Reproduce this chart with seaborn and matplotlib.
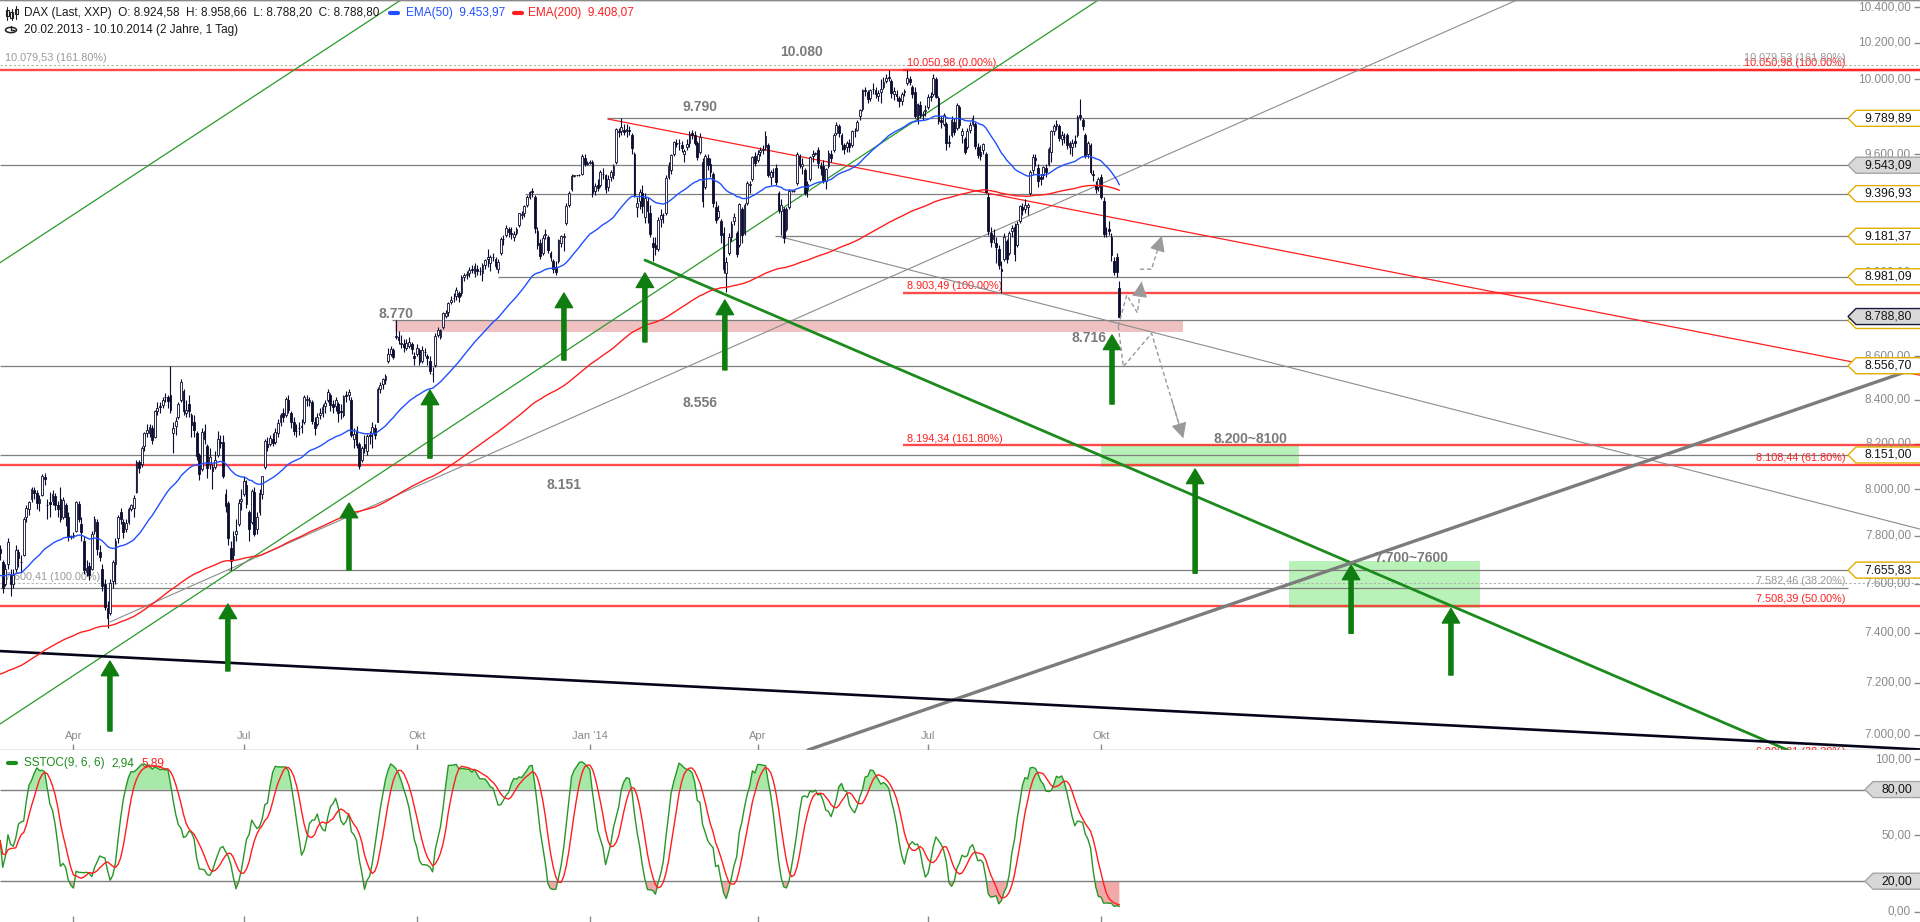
import numpy as np
import pandas as pd
import matplotlib
matplotlib.use("Agg")
import matplotlib.pyplot as plt
import seaborn as sns
from matplotlib.patches import Polygon, Circle, Rectangle
from matplotlib.lines import Line2D
from matplotlib.ticker import FixedLocator, NullLocator, NullFormatter
from matplotlib.transforms import blended_transform_factory

# ---------------- DAX (Last, XXP) daily quotes 20.02.2013 - 10.10.2014 ----------------
opens = [
    7745, 7690, 7600, 7680, 7640, 7600, 7660,
    7730, 7690, 7720, 7880, 7915, 7960, 7995, 7985, 7940, 7975, 8055, 7930, 7945, 7950, 7970, 7930, 7960, 7880, 7930, 7880, 7795,
    7800, 7820, 7935, 7850, 7780, 7650, 7675, 7660, 7820, 7860, 7730, 7660, 7600, 7500, 7480, 7610, 7680, 7790, 7900, 7860, 7830, 7860,
    7914, 7920, 7990, 8120, 8110, 8190, 8250, 8250, 8270, 8230, 8350, 8370, 8375, 8410, 8410, 8420, 8250, 8280, 8320, 8400, 8440, 8340, 8380,
    8330, 8300, 8250, 8150, 8090, 8260, 8190, 8110, 8100, 8100, 8150, 8210, 8210, 7980, 7940, 7750, 7720, 7810, 7850, 7950,
    7980, 8020, 7900, 7860, 7990, 7830, 7900, 7980, 8100, 8200, 8200, 8220, 8210, 8250, 8300, 8340, 8330, 8400, 8340, 8300, 8260, 8270, 8280,
    8300, 8400, 8390, 8390, 8300, 8290, 8330, 8340, 8370, 8400, 8420, 8380, 8370, 8380, 8350, 8330, 8420, 8420, 8400, 8220, 8260, 8200,
    8130, 8200, 8170, 8240, 8250, 8270, 8300, 8450, 8470, 8490, 8580, 8610, 8630, 8690, 8690, 8660, 8660, 8640, 8650, 8660, 8600,
    8610, 8630, 8580, 8620, 8600, 8580, 8520, 8560, 8700, 8690, 8740, 8790, 8810, 8860, 8880, 8890, 8900, 8900, 8980, 8990, 9000, 9020, 9000,
    9020, 9010, 9000, 9040, 9070, 9050, 9080, 9070, 9020, 9100, 9170, 9190, 9220, 9200, 9180, 9200, 9240, 9290, 9300, 9340, 9380,
    9410, 9380, 9210, 9150, 9100, 9190, 9180, 9100, 9060, 9030, 9060, 9150, 9180, 9250, 9340, 9420, 9489, 9490, 9492, 9500, 9580, 9552,
    9555, 9560, 9410, 9440, 9440, 9500, 9490, 9430, 9480, 9490, 9560, 9720, 9720, 9730, 9720, 9730, 9700, 9600, 9330, 9360, 9400, 9280, 9360,
    9300, 9150, 9140, 9120, 9270, 9290, 9300, 9480, 9520, 9600, 9660, 9660, 9650, 9600, 9640, 9660, 9710, 9700, 9660, 9610,
    9560, 9430, 9580, 9550, 9500, 9330, 9280, 9260, 9200, 9000, 9100, 9180, 9260, 9200, 9140, 9320, 9200, 9350, 9440, 9470, 9590,
    9570, 9610, 9620, 9640, 9650, 9480, 9510, 9530, 9400, 9310, 9320, 9220, 9330, 9409, 9410, 9450, 9590, 9540, 9520, 9420, 9470, 9590,
    9603, 9620, 9540, 9540, 9460, 9540, 9600, 9620, 9710, 9750, 9700, 9650, 9640, 9660, 9650, 9720, 9730, 9800, 9840, 9940, 9930, 9900,
    9950, 9940, 9910, 9930, 9960, 9990, 10010, 9990, 9920, 9920, 9900, 9880, 9930, 9980, 10000, 9960, 9930, 9780, 9860, 9810, 9830,
    9850, 9910, 9920, 10000, 9900, 9780, 9760, 9760, 9660, 9700, 9770, 9740, 9850, 9700, 9680, 9640, 9730, 9760, 9760, 9640, 9610, 9620, 9600,
    9380, 9200, 9170, 9150, 9120, 9020, 9070, 9160, 9100, 9210, 9230, 9140, 9260, 9330, 9320, 9330, 9400, 9520, 9580, 9530, 9480,
    9490, 9530, 9550, 9610, 9720, 9750, 9750, 9680, 9690, 9700, 9640, 9640, 9670, 9700, 9810, 9780, 9700, 9600, 9650, 9500, 9440, 9430,
    9480, 9360, 9200, 9220, 9180, 9060, 9080, 8924.58,
]
highs = [
    7760, 7700, 7680, 7790, 7660, 7660, 7760,
    7745, 7720, 7880, 7930, 7950, 8010, 8010, 7995, 7975, 8065, 8070, 7960, 7990, 7995, 7985, 7950, 8010, 7965, 7940, 7900, 7805,
    7815, 7950, 7950, 7880, 7800, 7700, 7690, 7820, 7885, 7870, 7760, 7680, 7620, 7530, 7620, 7700, 7790, 7890, 7920, 7870, 7870, 7925,
    7935, 7975, 8130, 8130, 8190, 8255, 8290, 8290, 8285, 8355, 8390, 8390, 8410, 8430, 8420, 8557, 8300, 8320, 8390, 8495, 8450, 8400, 8420,
    8340, 8330, 8260, 8160, 8270, 8290, 8200, 8180, 8110, 8170, 8260, 8240, 8240, 8000, 7950, 7780, 7820, 7870, 7960, 8000,
    8060, 8040, 7910, 8000, 8010, 7900, 8000, 8060, 8220, 8230, 8240, 8250, 8270, 8310, 8340, 8360, 8410, 8420, 8350, 8320, 8290, 8300, 8310,
    8420, 8420, 8410, 8400, 8320, 8340, 8360, 8380, 8400, 8450, 8430, 8400, 8410, 8390, 8380, 8420, 8440, 8450, 8410, 8270, 8280, 8210,
    8190, 8240, 8245, 8260, 8300, 8290, 8460, 8480, 8500, 8520, 8640, 8650, 8640, 8770, 8720, 8700, 8680, 8680, 8690, 8670, 8620,
    8660, 8640, 8650, 8640, 8610, 8600, 8550, 8710, 8740, 8730, 8810, 8820, 8860, 8890, 8900, 8930, 8910, 8990, 9000, 9010, 9030, 9040, 9050,
    9040, 9030, 9050, 9070, 9120, 9090, 9100, 9080, 9070, 9180, 9190, 9240, 9230, 9230, 9210, 9230, 9300, 9310, 9340, 9390, 9410,
    9424, 9390, 9230, 9170, 9190, 9220, 9190, 9110, 9070, 9060, 9170, 9190, 9200, 9350, 9410, 9500, 9495, 9495, 9500, 9600, 9600, 9565,
    9570, 9570, 9450, 9470, 9520, 9530, 9500, 9490, 9520, 9550, 9740, 9740, 9794, 9760, 9760, 9750, 9710, 9610, 9380, 9420, 9440, 9400, 9380,
    9340, 9180, 9180, 9280, 9320, 9300, 9490, 9560, 9600, 9670, 9680, 9680, 9670, 9630, 9680, 9720, 9730, 9720, 9670, 9710,
    9580, 9600, 9600, 9580, 9510, 9360, 9340, 9270, 9230, 9080, 9200, 9260, 9300, 9210, 9350, 9330, 9350, 9460, 9460, 9590, 9610,
    9620, 9640, 9650, 9720, 9660, 9520, 9530, 9550, 9410, 9370, 9330, 9330, 9420, 9415, 9418, 9610, 9600, 9580, 9530, 9460, 9590, 9620,
    9612, 9640, 9560, 9570, 9530, 9620, 9620, 9710, 9770, 9760, 9710, 9660, 9670, 9680, 9730, 9740, 9780, 9840, 9950, 9960, 9940, 9950,
    9980, 9960, 9940, 10000, 10010, 10030, 10050, 10000, 9960, 9940, 9910, 9930, 9950, 10051, 10020, 9970, 9960, 9870, 9880, 9830, 9860,
    9920, 9930, 10030, 10010, 9910, 9800, 9820, 9770, 9700, 9800, 9790, 9870, 9860, 9740, 9690, 9740, 9770, 9810, 9770, 9660, 9650, 9660, 9610,
    9400, 9230, 9220, 9180, 9140, 9060, 9200, 9170, 9210, 9240, 9250, 9260, 9340, 9350, 9370, 9350, 9520, 9600, 9600, 9550, 9500,
    9540, 9550, 9640, 9730, 9760, 9780, 9760, 9720, 9710, 9710, 9670, 9680, 9700, 9810, 9891, 9790, 9710, 9670, 9660, 9520, 9460, 9480,
    9500, 9380, 9230, 9260, 9200, 9080, 9100, 8958.66,
]
lows = [
    7700, 7560, 7590, 7660, 7550, 7580, 7650,
    7670, 7650, 7715, 7860, 7890, 7945, 7960, 7915, 7905, 7970, 8020, 7870, 7880, 7930, 7910, 7880, 7860, 7870, 7840, 7780, 7785,
    7790, 7815, 7860, 7780, 7640, 7630, 7615, 7655, 7810, 7720, 7695, 7570, 7490, 7420, 7470, 7580, 7600, 7770, 7850, 7790, 7815, 7850,
    7905, 7880, 7985, 8070, 8100, 8170, 8230, 8230, 8200, 8225, 8330, 8340, 8360, 8390, 8360, 8340, 8160, 8240, 8310, 8390, 8330, 8320, 8320,
    8230, 8230, 8130, 8040, 8080, 8200, 8050, 8090, 8000, 8090, 8140, 8180, 8050, 7900, 7760, 7656, 7700, 7780, 7840, 7910,
    7970, 7920, 7780, 7850, 7800, 7810, 7890, 7960, 8090, 8170, 8190, 8190, 8200, 8230, 8280, 8300, 8320, 8340, 8270, 8240, 8230, 8240, 8250,
    8290, 8370, 8370, 8290, 8240, 8280, 8310, 8320, 8340, 8390, 8350, 8340, 8350, 8300, 8310, 8320, 8390, 8400, 8230, 8180, 8180, 8090,
    8120, 8160, 8150, 8200, 8180, 8220, 8300, 8430, 8450, 8470, 8570, 8600, 8590, 8680, 8660, 8640, 8620, 8630, 8640, 8610, 8560,
    8600, 8560, 8570, 8600, 8560, 8520, 8480, 8550, 8690, 8680, 8730, 8780, 8790, 8850, 8860, 8870, 8860, 8890, 8960, 8970, 8980, 9000, 8980,
    8990, 8990, 8960, 9020, 9030, 9010, 9060, 9020, 9000, 9090, 9140, 9180, 9180, 9170, 9160, 9190, 9230, 9270, 9280, 9330, 9370,
    9380, 9200, 9120, 9070, 9090, 9170, 9100, 9060, 9000, 8990, 9050, 9130, 9110, 9240, 9330, 9410, 9482, 9485, 9488, 9495, 9540, 9545,
    9550, 9380, 9390, 9410, 9430, 9470, 9400, 9410, 9460, 9470, 9550, 9690, 9700, 9700, 9690, 9700, 9600, 9380, 9280, 9320, 9300, 9250, 9250,
    9180, 9060, 9090, 9110, 9230, 9250, 9290, 9470, 9500, 9590, 9640, 9620, 9610, 9560, 9620, 9640, 9680, 9650, 9570, 9600,
    9330, 9420, 9520, 9480, 9330, 9250, 9270, 9150, 9000, 8907, 9090, 9160, 9240, 9080, 9130, 9150, 9190, 9340, 9400, 9460, 9540,
    9560, 9590, 9600, 9620, 9480, 9440, 9480, 9440, 9300, 9190, 9150, 9210, 9320, 9405, 9405, 9440, 9530, 9500, 9390, 9380, 9460, 9560,
    9598, 9530, 9490, 9450, 9420, 9530, 9560, 9610, 9700, 9690, 9620, 9600, 9610, 9610, 9640, 9690, 9720, 9780, 9830, 9910, 9870, 9880,
    9920, 9900, 9880, 9870, 9950, 9980, 9990, 9900, 9890, 9880, 9850, 9860, 9910, 9970, 9970, 9900, 9790, 9760, 9790, 9780, 9800,
    9840, 9880, 9910, 9900, 9760, 9740, 9750, 9620, 9640, 9690, 9700, 9730, 9740, 9660, 9600, 9630, 9710, 9750, 9630, 9580, 9570, 9600, 9400,
    9190, 9130, 9150, 9050, 9020, 8903.49, 9060, 9050, 9090, 9180, 9060, 9130, 9250, 9290, 9300, 9290, 9390, 9500, 9540, 9430, 9440,
    9470, 9480, 9540, 9560, 9700, 9730, 9670, 9650, 9660, 9630, 9600, 9590, 9640, 9690, 9780, 9730, 9580, 9580, 9500, 9460, 9400, 9410,
    9370, 9180, 9180, 9190, 9060, 8990, 8980, 8788.20,
]
closes = [
    7728, 7583, 7661, 7774, 7597, 7636, 7741,
    7708, 7691, 7870, 7919, 7945, 8003, 7983, 7939, 7960, 8059, 8043, 7931, 7935, 7980, 7932, 7913, 7870, 7955, 7879, 7795, 7800,
    7805, 7943, 7874, 7818, 7658, 7663, 7637, 7810, 7871, 7744, 7712, 7588, 7503, 7459, 7601, 7690, 7777, 7882, 7870, 7815, 7855, 7914,
    7930, 7961, 8122, 8094, 8181, 8249, 8262, 8278, 8217, 8348, 8364, 8365, 8399, 8414, 8396, 8352, 8271, 8305, 8382, 8480, 8350, 8351, 8348,
    8286, 8262, 8147, 8066, 8255, 8221, 8093, 8143, 8079, 8127, 8222, 8205, 8059, 7928, 7789, 7692, 7800, 7821, 7940, 7959,
    8037, 7936, 7829, 7994, 7807, 7881, 7986, 8058, 8212, 8187, 8226, 8205, 8254, 8294, 8331, 8321, 8402, 8355, 8298, 8257, 8258, 8271, 8276,
    8410, 8403, 8398, 8305, 8273, 8321, 8338, 8368, 8387, 8435, 8376, 8366, 8398, 8341, 8343, 8416, 8416, 8436, 8241, 8244, 8195, 8103,
    8180, 8181, 8235, 8234, 8275, 8240, 8447, 8469, 8495, 8509, 8613, 8636, 8596, 8694, 8676, 8665, 8642, 8665, 8666, 8636, 8594,
    8638, 8573, 8630, 8622, 8591, 8534, 8516, 8698, 8725, 8724, 8805, 8805, 8852, 8870, 8879, 8919, 8882, 8981, 8990, 8996, 9015, 9014, 9034,
    9008, 9010, 9040, 9062, 9078, 9079, 9076, 9034, 9055, 9168, 9168, 9225, 9202, 9193, 9193, 9219, 9299, 9291, 9336, 9378, 9405,
    9405, 9225, 9140, 9084, 9172, 9191, 9114, 9077, 9017, 9006, 9163, 9182, 9181, 9336, 9400, 9489, 9490, 9492, 9495, 9589, 9552, 9555,
    9560, 9400, 9435, 9428, 9506, 9497, 9421, 9473, 9510, 9540, 9734, 9717, 9742, 9716, 9731, 9720, 9631, 9392, 9349, 9406, 9336, 9374, 9306,
    9193, 9128, 9116, 9265, 9290, 9286, 9478, 9540, 9597, 9662, 9656, 9660, 9631, 9617, 9656, 9708, 9699, 9661, 9588, 9692,
    9359, 9589, 9542, 9507, 9350, 9265, 9308, 9189, 9017, 9056, 9180, 9242, 9277, 9093, 9342, 9188, 9338, 9451, 9448, 9587, 9556,
    9604, 9623, 9629, 9695, 9490, 9507, 9506, 9454, 9315, 9339, 9173, 9317, 9409, 9410, 9412, 9600, 9545, 9548, 9401, 9446, 9584, 9603,
    9605, 9556, 9529, 9467, 9521, 9608, 9581, 9703, 9754, 9710, 9656, 9630, 9659, 9639, 9722, 9720, 9768, 9832, 9940, 9939, 9892, 9943,
    9950, 9920, 9926, 9947, 9987, 10009, 10008, 9925, 9939, 9912, 9883, 9920, 9937, 10005, 9987, 9920, 9804, 9867, 9805, 9815, 9833,
    9902, 9902, 10009, 9906, 9773, 9772, 9808, 9659, 9666, 9783, 9719, 9859, 9753, 9720, 9612, 9720, 9753, 9794, 9644, 9598, 9593, 9653, 9407,
    9210, 9154, 9189, 9130, 9039, 9010, 9180, 9070, 9198, 9225, 9092, 9245, 9334, 9315, 9339, 9339, 9510, 9588, 9570, 9462, 9470,
    9532, 9507, 9626, 9724, 9747, 9758, 9686, 9700, 9691, 9651, 9659, 9661, 9661, 9799, 9799, 9749, 9595, 9661, 9510, 9490, 9422, 9474,
    9382, 9195, 9197, 9209, 9086, 9005, 9005, 8788.80,
]
assert len(opens) == len(highs) == len(lows) == len(closes)

# EMA levels carried in from before the window, values in the legend
ema50_start, ema200_start = 7630, 7230
ema_legend = [9453.97, 9408.07]
stoch_legend = [2.94, 5.89]
quote_header = [8924.58, 8958.66, 8788.20, 8788.80]

# horizontal support/resistance lines: level, first bar
gray_levels = [9789.89, 9543.09, 9396.93, 9181.37, 8981.09, 8770.00, 8556.70, 8151.00, 7655.83, 7582.46]
gray_starts = [231.4, 0, 200.3, 295.6, 190.0, 149.5, 0, 0, 87.0, 0]
tag_levels_orange = [9789.89, 9396.93, 9181.37, 8981.09, 8556.70, 8151.00, 7655.83]
tag_level_hidden = 8770.00
tag_levels_gray = [9543.09]
last_price = 8788.80

# Fibonacci levels
fib_full = [10050.98, 8108.44, 7508.39, 6908.31]
fib_full_txt = ["10.050,98 (100.00%)", "8.108,44 (61.80%)", "7.508,39 (50.00%)", "6.908,31 (38.20%)"]
fib_part = [10050.98, 8903.49, 8194.34]
fib_part_txt = ["10.050,98 (0.00%)", "8.903,49 (100.00%)", "8.194,34 (161.80%)"]
fib_part_start = 344.5
fib_gray = [10079.53, 7600.41]
fib_gray_txt = ["10.079,53 (161.80%)", "7.600,41 (100.00%)"]

# trend lines: (bar0, price0, bar1, price1)
lines_green_thin = [(-0.04, 9050, 152.9, 10441), (-0.04, 7041, 418.96, 10441)]
lines_gray_thin = [(41.93, 7443, 578.7, 10441), (297.9, 9178, 732.4, 7829)]
line_red_thin = (231.9, 9786, 732.4, 8513)
line_green_thick = (246.0, 9063, 732.4, 6731)
line_gray_thick = (308.2, 6942, 732.4, 8551)
line_black = (-0.04, 7326, 732.4, 6944)

# zones
pink_zone = (150.7, 451.3, 8716, 8770)
green_zones = [(420.0, 495.5, 8100, 8200), (491.7, 564.6, 7500, 7695)]

# green signal arrows: bar, tail price, tip price
arrow_bar = [41.9, 86.9, 133.1, 164.0, 215.1, 246.0, 276.5, 424.2, 455.9, 515.4, 553.5]
arrow_tail = [7014, 7247, 7656, 8137, 8583, 8668, 8537, 8380, 7643, 7397, 7231]
arrow_tip = [7286, 7516, 7940, 8444, 8902, 9000, 8868, 8701, 8089, 7677, 7498]

# projected paths (dashed)
paths = [
    [(426.6, 8743), (429.8, 8892), (433.9, 8807), (435.5, 8957)],
    [(426.6, 8743), (428.5, 8552), (439.3, 8709), (451.4, 8225)],
    [(434.9, 9018), (439.3, 9018), (443.2, 9183)],
]

# bold annotations
notes = ["10.080", "9.790", "8.770", "8.556", "8.151", "8.716", "8.200~8100", "7.700~7600"]
notes_bar = [305.7, 267.0, 150.9, 267.2, 215.3, 415.6, 477.0, 538.3]
notes_price = [10150, 9851, 8801, 8385, 8019, 8687, 8222, 7706]

price_ticks = list(range(7000, 10401, 200))
# axis labels not covered by the price tags
price_tick_labels = [v for v in price_ticks if v not in (9400, 9200, 8800)]


def de(v, nd=2):
    s = f"{v:,.{nd}f}"
    return s.replace(",", "_").replace(".", ",").replace("_", ".")


# ---------------- frame & indicators ----------------
n = len(closes)
df = pd.DataFrame({
    "date": pd.bdate_range("2013-02-20", periods=n),
    "open": opens, "high": highs, "low": lows, "close": closes,
})
df["i"] = np.arange(n)


def ema(values, span, start):
    a = 2.0 / (span + 1)
    out, prev = [], start
    for v in values:
        prev += a * (v - prev)
        out.append(prev)
    return np.array(out)


df["ema50"] = ema(df.close, 50, ema50_start)
df["ema200"] = ema(df.close, 200, ema200_start)
hh = df.high.rolling(9, min_periods=1).max()
ll = df.low.rolling(9, min_periods=1).min()
raw = 100 * (df.close - ll) / (hh - ll)
df["k"] = raw.rolling(6, min_periods=1).mean()
df["d"] = df.k.rolling(6, min_periods=1).mean()

# ---------------- figure ----------------
sns.set_theme(style="white")
plt.rcParams["font.family"] = ["Liberation Sans", "DejaVu Sans"]

W, H = 1920, 922
fig = plt.figure(figsize=(W / 100, H / 100), dpi=100)
fig.patch.set_facecolor("white")
ax = fig.add_axes([0, 172 / H, 1, 750 / H])
ax2 = fig.add_axes([0, 0, 1, 172 / H], sharex=ax)
for a in (ax, ax2):
    a.set_facecolor("white")

XL = (-0.04, 732.45)
TAG_BAR = 705.0
NAVY = "#0c0c30"
GREEN = "#0f7d0f"
RED = "#ff1e1e"
GRAY = "#7f7f7f"
TXTGRAY = "#8a8a8a"

ax.set_yscale("log")

# zones
x0, x1, lo, hi = pink_zone
ax.fill_between([x0, x1], [lo, lo], [hi, hi], color="#efc1c1", lw=0, zorder=1)
for x0, x1, lo, hi in green_zones:
    ax.fill_between([x0, x1], [lo, lo], [hi, hi], color="#b8f2b8", lw=0, zorder=1)

# horizontal lines
for v, s in zip(gray_levels, gray_starts):
    ax.hlines(v, s, TAG_BAR, color=GRAY, lw=0.9, zorder=2)
ax.hlines(fib_gray, XL[0], XL[1], color="#b0b0b0", lw=0.8, linestyles=(0, (2, 2)), zorder=2)
ax.hlines(fib_full, XL[0], XL[1], color=RED, lw=1.7, alpha=0.8, zorder=2)
ax.hlines(fib_part, fib_part_start, XL[1], color=RED, lw=1.7, alpha=0.8, zorder=2)

# fib texts
FIBFS = 7.8
for v, t in zip(fib_part, fib_part_txt):
    ax.text(fib_part_start + 1.4, v * 1.0008, t, color=RED, fontsize=FIBFS, ha="left", va="bottom", zorder=2, clip_on=True)
for v, t in zip(fib_full, fib_full_txt):
    ax.text(703.9, v * 1.0008, t, color=RED, fontsize=FIBFS, ha="right", va="bottom", zorder=2, clip_on=True)
ax.text(703.9, 10079.53 * 1.0008, fib_gray_txt[0], color="#9a9a9a", fontsize=FIBFS, ha="right", va="bottom", zorder=2)
ax.text(703.9, 7582.46 * 1.0008, "7.582,46 (38.20%)", color="#9a9a9a", fontsize=FIBFS, ha="right", va="bottom", zorder=2)
for v, t in zip(fib_gray, fib_gray_txt):
    ax.text(1.9, v * 1.0008, t, color="#9a9a9a", fontsize=FIBFS, ha="left", va="bottom", zorder=2)

# trend lines
for b0, p0, b1, p1 in lines_green_thin:
    ax.plot([b0, b1], [p0, p1], color="#2a9a2a", lw=0.9, zorder=2.5)
for b0, p0, b1, p1 in lines_gray_thin:
    ax.plot([b0, b1], [p0, p1], color="#8c8c8c", lw=0.8, zorder=2.5)
b0, p0, b1, p1 = line_red_thin
ax.plot([b0, b1], [p0, p1], color=RED, lw=0.9, zorder=2.5)
b0, p0, b1, p1 = line_green_thick
ax.plot([b0, b1], [p0, p1], color="#1c8a1c", lw=2.0, zorder=2.5)
b0, p0, b1, p1 = line_gray_thick
ax.plot([b0, b1], [p0, p1], color="#7c7c7c", lw=2.4, zorder=2.5)
b0, p0, b1, p1 = line_black
ax.plot([b0, b1], [p0, p1], color="#04041a", lw=1.9, zorder=2.5)

# candles
o = df.open.values
c = df.close.values
up = c >= o
body_lo = np.minimum(o, c)
body_h = np.abs(c - o)
ax.vlines(df.i, np.minimum(df.low, body_lo), np.maximum(df.high, body_lo + body_h), color=NAVY, lw=0.8, zorder=3)
ax.bar(df.i[up], body_h[up], bottom=body_lo[up], width=0.68, facecolor="white", edgecolor=NAVY, linewidth=0.6, zorder=4)
ax.bar(df.i[~up], body_h[~up], bottom=body_lo[~up], width=0.68, facecolor=NAVY, edgecolor=NAVY, linewidth=0.6, zorder=4)

# moving averages
sns.lineplot(data=df, x="i", y="ema50", ax=ax, color="#2050ff", lw=1.0, estimator=None, sort=False, legend=False, zorder=5)
sns.lineplot(data=df, x="i", y="ema200", ax=ax, color=RED, lw=1.0, estimator=None, sort=False, legend=False, zorder=5)

# signal arrows
for b, t0, t1 in zip(arrow_bar, arrow_tail, arrow_tip):
    ax.annotate("", xy=(b, t1), xytext=(b, t0), zorder=6,
                arrowprops=dict(arrowstyle="simple,head_length=1.05,head_width=1.25,tail_width=0.3",
                                color=GREEN, shrinkA=0, shrinkB=0, mutation_scale=10))

# projected paths
for pts in paths:
    xs = [p[0] for p in pts]
    ys = [p[1] for p in pts]
    ax.plot(xs, ys, color="#9a9a9a", lw=1.0, ls=(0, (3, 2)), zorder=6)
    (xa, ya), (xb, yb) = pts[-2], pts[-1]
    xm = xb - 0.35 * (xb - xa)
    ym = yb * (ya / yb) ** 0.35
    ax.annotate("", xy=(xb, yb), xytext=(xm, ym), zorder=6,
                arrowprops=dict(arrowstyle="-|>,head_length=0.8,head_width=0.4", color="#9a9a9a",
                                lw=0.8, shrinkA=0, shrinkB=0, mutation_scale=12))

# bold annotations
for t, b, p in zip(notes, notes_bar, notes_price):
    ax.text(b, p, t, color="#7a7a7a", fontsize=10, fontweight="bold", ha="center", va="center", zorder=5)

# axes setup (main)
ax.set_xlim(XL)
ax.set_ylim(6942, 10441)
ax.set_xlabel("")
ax.set_ylabel("")
for s in ("left", "right"):
    ax.spines[s].set_visible(False)
for s in ("top", "bottom"):
    ax.spines[s].set_color("#8a8a8a")
    ax.spines[s].set_linewidth(1.0)
ax.yaxis.set_major_locator(FixedLocator(price_ticks))
ax.yaxis.set_minor_locator(NullLocator())
ax.yaxis.set_major_formatter(NullFormatter())
ax.yaxis.set_minor_formatter(NullFormatter())
ax.tick_params(axis="y", which="both", direction="in", length=4, width=1, color="#8a8a8a",
               left=False, right=True, labelleft=False, labelright=False)
ytr = blended_transform_factory(ax.transAxes, ax.transData)
for v in price_tick_labels:
    ax.text(1911 / W, v, de(v), transform=ytr, ha="right", va="center", fontsize=8.5, color=TXTGRAY, zorder=2)

# month ticks
month_pos, month_lab = [], []
names = {1: "Jan '14", 4: "Apr", 7: "Jul", 10: "Okt"}
prev_m = None
for i, d in enumerate(df.date):
    if d.month != prev_m and d.month in names and i > 0:
        month_pos.append(i)
        month_lab.append(names[d.month])
    prev_m = d.month
ax.set_xticks(month_pos)
ax.tick_params(axis="x", direction="in", length=4, width=1, color="#8a8a8a", bottom=True, top=False, labelbottom=False)
xtr = blended_transform_factory(ax.transData, ax.transAxes)
for p, lab in zip(month_pos, month_lab):
    ax.text(p, 14 / 750, lab, transform=xtr, ha="center", va="center", fontsize=8, color=TXTGRAY, zorder=6)

# ---------------- indicator panel ----------------
ax2.fill_between(df.i, df.k, 80, where=df.k > 80, interpolate=True, color="#a8e8a8", lw=0, zorder=1)
ax2.fill_between(df.i, df.k, 20, where=df.k < 20, interpolate=True, color="#f2a8a8", lw=0, zorder=1)
ax2.hlines([80, 20], XL[0], 711.9, color=GRAY, lw=1.0, zorder=2)
sns.lineplot(data=df, x="i", y="k", ax=ax2, color="#279627", lw=1.0, estimator=None, sort=False, legend=False, zorder=3)
sns.lineplot(data=df, x="i", y="d", ax=ax2, color=RED, lw=1.0, estimator=None, sort=False, legend=False, zorder=3)
ax2.set_xlim(XL)
ax2.set_ylim(-6.7, 105.9)
ax2.set_xlabel("")
ax2.set_ylabel("")
for s in ax2.spines.values():
    s.set_visible(False)
ax2.set_yticks([0, 50, 100])
ax2.yaxis.set_major_formatter(NullFormatter())
ax2.tick_params(axis="y", direction="in", length=4, width=1, color="#8a8a8a", left=False, right=True,
                labelleft=False, labelright=False)
ax2.tick_params(axis="x", direction="in", length=4, width=1, color="#8a8a8a", bottom=True, labelbottom=False)
ytr2 = blended_transform_factory(ax2.transAxes, ax2.transData)
for v in (0, 50, 100):
    ax2.text(1911 / W, v, de(v), transform=ytr2, ha="right", va="center", fontsize=8.5, color=TXTGRAY)


# ---------------- price tags on the right ----------------
def fx(x):
    return x / W


def fy(y_top):
    return 1 - y_top / H


def tag(axis, v, text, fc, ec, x_tip):
    yc = axis.transData.transform((XL[0], v))[1]
    h = 8
    verts = [(x_tip, yc), (x_tip + 8, yc + h), (W + 2, yc + h), (W + 2, yc - h), (x_tip + 8, yc - h)]
    poly = Polygon([(x / W, y / H) for x, y in verts], closed=True, transform=fig.transFigure,
                   facecolor=fc, edgecolor=ec, lw=1.0, zorder=10)
    fig.add_artist(poly)
    if text:
        fig.text(1912 / W, yc / H, text, ha="right", va="center", fontsize=8.8, color="#141414", zorder=11)


for v in tag_levels_orange:
    tag(ax, v, de(v), "white", "#e2ad00", 1848)
tag(ax, tag_level_hidden, "", "white", "#e2ad00", 1848)
for v in tag_levels_gray:
    tag(ax, v, de(v), "#d8d8d8", "#a6a6a6", 1848)
tag(ax, last_price, de(last_price), "#d8d8d8", "#1a1a3c", 1848)
tag(ax2, 80, "80,00", "#d8d8d8", "#a6a6a6", 1865)
tag(ax2, 20, "20,00", "#d8d8d8", "#a6a6a6", 1865)

# ---------------- header ----------------
HFS = 8.5
hdr = "DAX (Last, XXP)  O: {}  H: {}  L: {}  C: {}".format(*[de(v) for v in quote_header])
fig.text(fx(24), fy(13), hdr, fontsize=HFS, color="#1a1a1a", va="center", ha="left", zorder=12)
fig.add_artist(Line2D([fx(390), fx(398)], [fy(13)] * 2, color="#2050ff", lw=3, transform=fig.transFigure))
fig.text(fx(406), fy(13), "EMA(50)  " + de(ema_legend[0]), fontsize=HFS, color="#2050ff", va="center", zorder=12)
fig.add_artist(Line2D([fx(514), fx(522)], [fy(13)] * 2, color=RED, lw=3, transform=fig.transFigure))
fig.text(fx(528), fy(13), "EMA(200)  " + de(ema_legend[1]), fontsize=HFS, color=RED, va="center", zorder=12)
fig.text(fx(24), fy(30), "20.02.2013 - 10.10.2014 (2 Jahre, 1 Tag)", fontsize=HFS, color="#1a1a1a", va="center", zorder=12)

# candle icon
for xi, (yt, yb, bt, bb) in zip([7, 11.5, 16], [(7, 20, 10, 16), (9, 20, 12, 18), (6, 19, 9, 14)]):
    fig.add_artist(Line2D([fx(xi)] * 2, [fy(yt), fy(yb)], color="#222", lw=0.8, transform=fig.transFigure))
    fig.add_artist(Rectangle((fx(xi - 1.5), fy(bb)), 3 / W, (bb - bt) / H, transform=fig.transFigure,
                             facecolor="white", edgecolor="#222", lw=0.8))
# clock icon
fig.add_artist(Circle((fx(11), fy(30)), 5.5 / W, transform=fig.transFigure, fill=False, edgecolor="#222", lw=1.1))
fig.add_artist(Line2D([fx(11), fx(11)], [fy(30), fy(26)], color="#222", lw=1.0, transform=fig.transFigure))
fig.add_artist(Line2D([fx(11), fx(14)], [fy(30), fy(30)], color="#222", lw=1.0, transform=fig.transFigure))

# stochastic legend
fig.add_artist(Line2D([fx(8), fx(16)], [fy(763)] * 2, color="#1c8c1c", lw=3, transform=fig.transFigure))
fig.text(fx(24), fy(763), "SSTOC(9, 6, 6)", fontsize=HFS, color="#1c8c1c", va="center", zorder=12)
fig.text(fx(111), fy(763), de(stoch_legend[0]), fontsize=HFS, color="#1c8c1c", va="center", zorder=12)
fig.text(fx(141), fy(763), de(stoch_legend[1]), fontsize=HFS, color=RED, va="center", zorder=12)

# top frame line
fig.add_artist(Line2D([0, 1], [fy(0.5)] * 2, color="#8a8a8a", lw=1.0, transform=fig.transFigure))

fig.savefig("out.png", dpi=100, facecolor="white")
